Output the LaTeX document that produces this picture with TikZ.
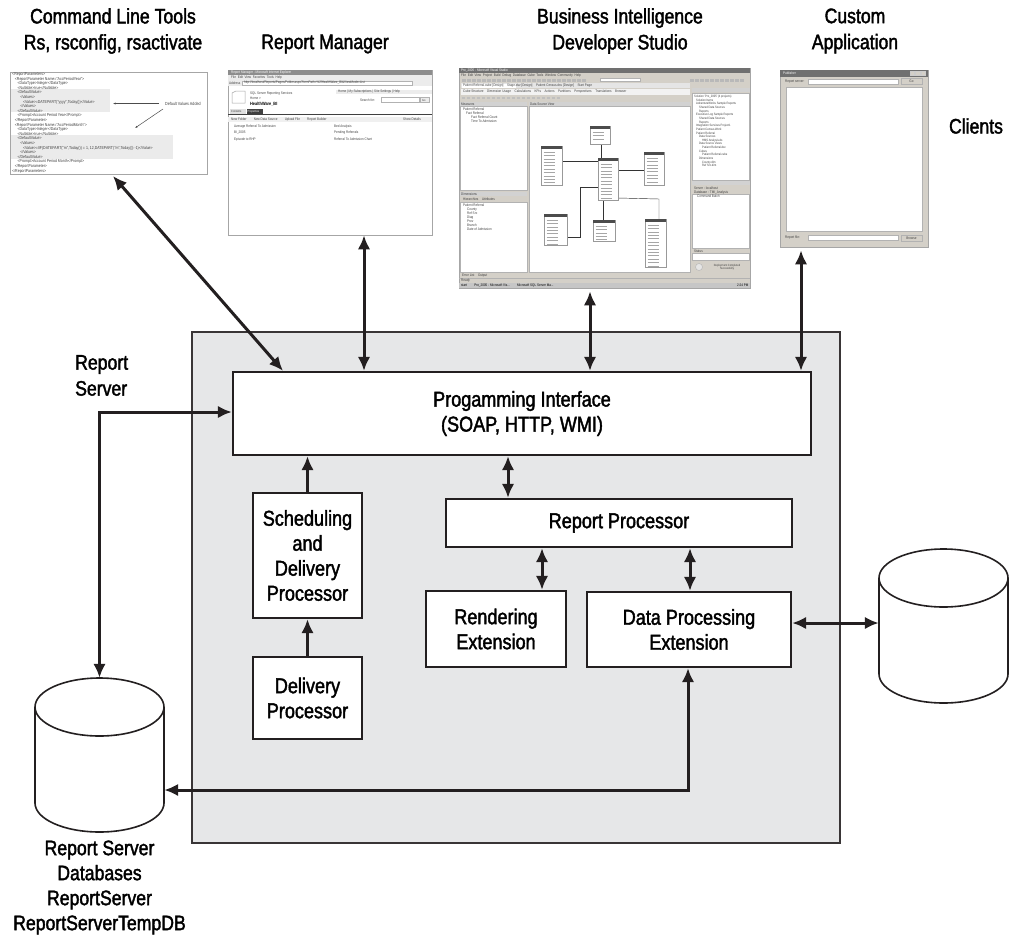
\documentclass[tikz,border=0pt]{standalone}
\usepackage{fontspec}
\setmainfont{Liberation Sans}[FakeStretch=0.84,FakeBold=1.8]
\newfontfamily\shotfam{Liberation Sans}[FakeStretch=0.84]
\usetikzlibrary{arrows.meta}
\definecolor{ink}{HTML}{231F20}
\definecolor{panel}{HTML}{E6E7E8}
\definecolor{win}{HTML}{D4D0C8}
\definecolor{wdark}{HTML}{707070}
\definecolor{codebg}{HTML}{EBEBEB}
\newcommand\boxfont{\fontsize{21.5}{25}\selectfont}
\newcommand\titfont{\fontsize{21}{26}\selectfont}
\newcommand\shotfont{\shotfam\fontsize{3.6}{4}\selectfont}
\newcommand\codefont{\shotfam\fontsize{4.2}{4.6}\selectfont}
\begin{document}
\begin{tikzpicture}[x=1pt,y=-1pt,
  box/.style={draw=ink,line width=2.3pt,fill=white,inner sep=0pt,align=center,font=\boxfont},
  lbl/.style={inner sep=0pt,align=center,font=\titfont},
  arr/.style={draw=ink,line width=3pt,{Latex[length=14pt,width=12.5pt]}-{Latex[length=14pt,width=12.5pt]}},
  sarr/.style={draw=ink,line width=3pt,-{Latex[length=14pt,width=12.5pt]}},
  shot/.style={draw=gray!70,line width=0.7pt,fill=white,inner sep=0pt},
  tt/.style={inner sep=0pt,anchor=west,font=\shotfont,text=black!75},
  thinl/.style={draw=gray!60,line width=0.4pt},
  cylline/.style={draw=ink,line width=1.6pt}]
\useasboundingbox (0,0) rectangle (1011,935);
\fill[white] (0,0) rectangle (1011,935);

% ---------- titles ----------
\node[lbl] (tcmd) at (113,31) {Command Line Tools\\Rs, rsconfig, rsactivate};
\node[lbl] (trm) at (325,44) {Report Manager};
\node[lbl] (tbids) at (620,31) {Business Intelligence\\Developer Studio};
\node[lbl] (tapp) at (855,31) {Custom\\Application};
\node[lbl] (tcl) at (976,126) {Clients};
\node[lbl,align=left,anchor=west] (trs) at (75,375.5) {Report\\Server};

% ---------- command line screenshot ----------
\node[shot,minimum width=197pt,minimum height=102pt] (cmd) at (108.5,123) {};
\fill[codebg] (11,89) rectangle (110,112);
\fill[codebg] (11,135) rectangle (173,159);
\node[inner sep=0pt,anchor=north west,align=left,font=\codefont,text=black!75] (cmdtext) at (12,72.5) {%
<ReportParameters>\\
\hspace*{2.7pt}<ReportParameter Name="AccPeriodYear">\\
\hspace*{5.4pt}<DataType>Integer</DataType>\\
\hspace*{5.4pt}<Nullable>true</Nullable>\\
\hspace*{5.4pt}<DefaultValue>\\
\hspace*{8.1pt}<Values>\\
\hspace*{10.8pt}<Value>=DATEPART("yyyy",Today())</Value>\\
\hspace*{8.1pt}</Values>\\
\hspace*{5.4pt}</DefaultValue>\\
\hspace*{5.4pt}<Prompt>Account Period Year</Prompt>\\
\hspace*{2.7pt}</ReportParameter>\\
\hspace*{2.7pt}<ReportParameter Name="AccPeriodMonth">\\
\hspace*{5.4pt}<DataType>Integer</DataType>\\
\hspace*{5.4pt}<Nullable>true</Nullable>\\
\hspace*{5.4pt}<DefaultValue>\\
\hspace*{8.1pt}<Values>\\
\hspace*{10.8pt}<Value>=IIF(DATEPART("m",Today()) = 1, 12,DATEPART("m",Today()) -1)</Value>\\
\hspace*{8.1pt}</Values>\\
\hspace*{5.4pt}</DefaultValue>\\
\hspace*{5.4pt}<Prompt>Account Period Month</Prompt>\\
\hspace*{2.7pt}</ReportParameter>\\
</ReportParameters>};
\node[tt,font=\shotfam\fontsize{4.4}{5}\selectfont] (dva) at (165,104) {Default Values Added};
\draw[black!70,line width=0.5pt,-{Latex[length=2.5pt,width=2pt]}] (dva.west) ++(-6,-0.5) -- (113,103.5);
\draw[black!70,line width=0.5pt,-{Latex[length=2.5pt,width=2pt]}] (163,109) -- (135,128);

% ---------- Report Manager screenshot ----------
\node[shot,minimum width=204pt,minimum height=165pt] (rm) at (330,152.5) {};
\fill[wdark!80] (228,70) rectangle (432,75);
\node[tt,text=white] (rmt) at (231,72.5) {Report Manager - Microsoft Internet Explorer};
\fill[gray!15] (228,75) rectangle (432,86);
\node[tt] (rmmenu) at (231,77.5) {File\ \ Edit\ \ View\ \ Favorites\ \ Tools\ \ Help};
\node[tt] (rmaddr) at (229,83) {Address};
\draw[thinl,fill=white] (242,81) rectangle (412,85);
\node[tt] (rmurl) at (244,83) {http://localhost/Reports/Pages/Folder.aspx?ItemPath=\%2fHealthWare\_BI\&ViewMode=List};
\draw[gray!70,line width=0.5pt] (232,93) -- (236,91) -- (245,91) -- (245,103) -- (232,103) -- cycle;
\node[tt] (rm1) at (250,94) {SQL Server Reporting Services};
\node[tt] (rm2) at (250,98.5) {Home >};
\node[tt,font=\shotfam\fontsize{4.6}{5}\selectfont\bfseries,text=black] (rm3) at (250,104) {HealthWare\_BI};
\fill[gray!15] (336,89.5) rectangle (432,93.5);
\node[tt] (rm4) at (338,91.5) {Home | My Subscriptions | Site Settings | Help};
\node[tt] (rm5) at (360,100) {Search for:};
\draw[thinl,fill=white] (381,97.5) rectangle (419,102.5);
\draw[thinl,fill=gray!15] (420.5,97.5) rectangle (429,102.5);
\node[tt,font=\shotfam\fontsize{3}{3}\selectfont] (rmgo) at (422,100) {Go};
\fill[gray!25] (230,109) rectangle (246,114);
\fill[black!75] (246.5,109) rectangle (263,114);
\node[tt,font=\shotfam\fontsize{3}{3}\selectfont] (rm6) at (231,111.5) {Contents};
\node[tt,font=\shotfam\fontsize{3}{3}\selectfont,text=white] (rm7) at (247.5,111.5) {Properties};
\fill[black!75] (228,114) rectangle (432,115);
\fill[gray!12] (228,116.5) rectangle (432,122);
\node[tt] (rm8) at (231,119.3) {New Folder\qquad New Data Source\qquad Upload File\qquad Report Builder};
\node[tt] (rm9) at (403,119.3) {Show Details};
\node[tt] (rm10) at (234,126.5) {Average Referral To Admission};
\node[tt] (rm11) at (334,126.5) {Bed Analysis};
\node[tt] (rm12) at (234,133) {BI\_2005};
\node[tt] (rm13) at (334,133) {Pending Referrals};
\node[tt] (rm14) at (234,139.5) {Episode to RHP};
\node[tt] (rm15) at (334,139.5) {Referral To Admission Chart};

% ---------- BIDS screenshot ----------
\node[shot,fill=win,minimum width=291pt,minimum height=220pt] (bids) at (604.5,178) {};
\fill[wdark] (459,68) rectangle (750,73);
\node[tt,text=white] (b1) at (461,70.5) {Pro\_2005 - Microsoft Visual Studio};
\node[tt] (b2) at (461,75.5) {File\ \ Edit\ \ View\ \ Project\ \ Build\ \ Debug\ \ Database\ \ Cube\ \ Tools\ \ Window\ \ Community\ \ Help};
\foreach \xx in {462,467,...,585} {\fill[gray!55] (\xx,78.5) rectangle ++(3.5,3);}
\foreach \xx in {690,695,...,740} {\fill[gray!55] (\xx,78.5) rectangle ++(3.5,3);}
\draw[thinl,fill=white] (600,78.5) rectangle (640,81.5);
\fill[gray!20] (461,83) rectangle (690,88);
\fill[white] (462,83.5) rectangle (516,88);
\node[tt] (b3) at (463,85.7) {Patient Referral.cube [Design]\quad Stage.dsv [Design]\quad Patient Census.dsv [Design]\quad Start Page};
\fill[gray!10] (461,89) rectangle (690,95);
\node[tt] (b4) at (463,92) {Cube Structure\quad Dimension Usage\quad Calculations\quad KPIs\quad Actions\quad Partitions\quad Perspectives\quad Translations\quad Browser};
\foreach \xx in {462,467,...,560} {\fill[gray!50] (\xx,96.5) rectangle ++(3,2.5);}
% left panels
\fill[gray!35] (460,102) rectangle (527,106);
\node[tt] (b5) at (461,104) {Measures};
\draw[thinl,fill=white] (460,106) rectangle (527,190);
\node[tt,align=left,anchor=north west] (b6) at (463,108) {Patient Referral\\\hspace*{3pt}Fact Referral\\\hspace*{8pt}Fact Referral Count\\\hspace*{8pt}Time To Admission};
\fill[gray!35] (460,192) rectangle (527,196);
\node[tt] (b7) at (461,194) {Dimensions};
\node[tt] (b8) at (463,199) {Hierarchies\quad Attributes};
\draw[thinl,fill=white] (460,202) rectangle (527,272);
\node[tt,align=left,anchor=north west] (b9) at (463,204) {Patient Referral\\\hspace*{4pt}County\\\hspace*{4pt}Ref Src\\\hspace*{4pt}Diag\\\hspace*{4pt}Prov\\\hspace*{4pt}Branch\\\hspace*{4pt}Date of Admission};
% data source view
\fill[gray!35] (529,102) rectangle (690,106);
\node[tt] (b10) at (530,104) {Data Source View};
\draw[thinl,fill=white] (529,106) rectangle (690,272);
\draw[black!80,line width=0.45pt] (601,144) -- (601,158);
\draw[black!80,line width=0.45pt] (562,161) -- (598,161);
\draw[black!80,line width=0.45pt] (618,170) -- (644,170);
\draw[black!80,line width=0.45pt] (598,187) -- (580,187) -- (580,237) -- (567,237);
\draw[black!80,line width=0.45pt] (603,200) -- (603,220);
\draw[black!80,line width=0.45pt] (618,198) -- (659,199) -- (659,219);
\foreach \a/\b/\c/\d/\n in {590/126/610/144/3,541/146/562/185/10,598/158/618/200/11,644/152/664/185/8,544/214/567/245/8,593/220/615/241/5,645/219/666/267/13}{
  \draw[gray!80,line width=0.5pt,fill=white] (\a,\b) rectangle (\c,\d);
  \fill[black!70] (\a,\b) rectangle (\c,{\b+2.8});
  \foreach \k in {1,...,\n}{\draw[gray!70,line width=0.45pt] ({\a+2.5},{\b+2.6+\k*3.4}) -- ++(11,0);}
}
% right panels
\fill[gray!35] (692,88) rectangle (750,92);
\draw[thinl,fill=white] (692,93) rectangle (749,180);
\node[tt,align=left,anchor=north west,font=\shotfam\fontsize{3.2}{3.65}\selectfont] (b11) at (694,95) {Solution 'Pro\_2005' (4 projects)\\\hspace*{2pt}Solution Items\\\hspace*{2pt}AdventureWorks Sample Reports\\\hspace*{5pt}Shared Data Sources\\\hspace*{5pt}Reports\\\hspace*{2pt}Executive Log Sample Reports\\\hspace*{5pt}Shared Data Sources\\\hspace*{5pt}Reports\\\hspace*{2pt}Integration Services Project1\\\hspace*{2pt}Patient Census.Work\\\hspace*{2pt}Patient Referral\\\hspace*{5pt}Data Sources\\\hspace*{8pt}HMS Analysis.ds\\\hspace*{5pt}Data Source Views\\\hspace*{8pt}Patient Referral.dsv\\\hspace*{5pt}Cubes\\\hspace*{8pt}Patient Referral.cube\\\hspace*{5pt}Dimensions\\\hspace*{8pt}County.dim\\\hspace*{8pt}Ref Src.dim};
\fill[gray!35] (692,181) rectangle (750,185);
\node[tt,align=left,anchor=north west] (b12) at (694,186.5) {Server : localhost\\Database : TMI\_Analysis};
\draw[thinl,fill=white] (692,194) rectangle (749,248);
\node[tt] (b13) at (697,196.5) {Command Batch};
\node[tt] (b14) at (694,251) {Status};
\draw[thinl,fill=white] (692,253.5) rectangle (749,260);
\draw[gray!60,fill=gray!20] (699,267) circle (3.5pt);
\node[tt,align=center,anchor=center,font=\shotfam\fontsize{3}{3.5}\selectfont] (b15) at (727,267) {Deployment Completed\\Successfully};
\node[tt] (b16) at (462,276) {Error List\quad Output};
\draw[thinl] (459,278.5) -- (750,278.5);
\node[tt] (b17) at (461,280.5) {Ready};
\fill[gray!45] (459,282.5) rectangle (750,288);
\node[tt,text=black] (b18) at (461,285.3) {start\qquad Pro\_2005 - Microsoft Vis...\qquad Microsoft SQL Server Ma...};
\node[tt,text=black] (b19) at (737,285.3) {2:24 PM};

% ---------- custom application screenshot ----------
\node[shot,fill=win,minimum width=148pt,minimum height=177pt] (app) at (854,158.5) {};
\fill[wdark] (780,70) rectangle (928,77);
\node[tt,text=white] (a1) at (783,73.5) {Publisher};
\foreach \xx in {910,915.5,921} {\draw[gray!40,fill=win] (\xx,71.5) rectangle ++(4.5,4);}
\node[tt] (a2) at (785,81.5) {Report server:};
\draw[thinl,fill=white] (808,79) rectangle (898,84);
\draw[gray!60,fill=win] (901,78.5) rectangle (922,84.5);
\node[tt,anchor=center] (a3) at (911.5,81.5) {Go};
\draw[gray!60,fill=white] (786,87) rectangle (922,231);
\node[tt] (a4) at (785,238) {Report file:};
\draw[thinl,fill=white] (808,235.5) rectangle (898,240.5);
\draw[gray!60,fill=win] (901,235) rectangle (922,241);
\node[tt,anchor=center] (a5) at (911.5,238) {Browse};

% ---------- report server ----------
\node[draw=ink!90,line width=1.6pt,fill=panel,inner sep=0pt,minimum width=648pt,minimum height=511pt] (srv) at (516,587.5) {};
\node[box,minimum width=578pt,minimum height=83pt] (prog) at (522,413.5) {Progamming Interface\\(SOAP, HTTP, WMI)};
\node[box,minimum width=109pt,minimum height=125pt] (sched) at (307.5,555.5) {Scheduling\\and\\Delivery\\Processor};
\node[box,minimum width=109pt,minimum height=82pt] (deliv) at (307.5,698) {Delivery\\Processor};
\node[box,minimum width=346pt,minimum height=48pt] (rp) at (619,523) {Report Processor};
\node[box,minimum width=140pt,minimum height=76pt] (rend) at (496,629) {Rendering\\Extension};
\node[box,minimum width=204pt,minimum height=75pt] (dpe) at (689,629.5) {Data Processing\\Extension};

% ---------- databases ----------
\node[inner sep=0pt,minimum width=129pt,minimum height=154pt] (db1) at (99.5,755) {};
\draw[cylline,fill=white] (35,707) -- (35,803) arc[start angle=180,end angle=360,x radius=64.5pt,y radius=29pt] -- (164,707) arc[start angle=0,end angle=180,x radius=64.5pt,y radius=29pt] -- cycle;
\draw[cylline] (35,707) arc[start angle=180,end angle=360,x radius=64.5pt,y radius=29pt];
\node[inner sep=0pt,minimum width=129pt,minimum height=154pt] (db2) at (943.5,626) {};
\draw[cylline,fill=white] (879,578) -- (879,674) arc[start angle=180,end angle=360,x radius=64.5pt,y radius=29pt] -- (1008,578) arc[start angle=0,end angle=180,x radius=64.5pt,y radius=29pt] -- cycle;
\draw[cylline] (879,578) arc[start angle=180,end angle=360,x radius=64.5pt,y radius=29pt];
\node[lbl,font=\fontsize{21}{25}\selectfont] (tdb) at (99.5,887.5) {Report Server\\Databases\\ReportServer\\ReportServerTempDB};

% ---------- connectors ----------
\coordinate (cmdend) at (113,176);
\coordinate (x283) at (283,0);
\coordinate (x364) at (364,0);
\coordinate (x590) at (590,0);
\coordinate (x801) at (801,0);
\coordinate (x508) at (508,0);
\coordinate (x542) at (542,0);
\coordinate (x690) at (690,0);
\coordinate (x688) at (688,0);
\coordinate (y412) at (0,412);
\coordinate (y623) at (0,623);
\coordinate (y790) at (0,790);
\draw[arr] (cmdend) -- (prog.north -| x283);
\draw[arr] (rm.south -| x364) -- (prog.north -| x364);
\draw[arr] ([yshift=-3pt]bids.south -| x590) -- (prog.north -| x590);
\draw[arr] ([yshift=-3pt]app.south -| x801) -- (prog.north -| x801);
\draw[arr] (prog.west |- y412) -| (db1.north);
\draw[sarr] (sched.north) -- (sched.north |- prog.south);
\draw[sarr] (deliv.north) -- (sched.south);
\draw[arr] (prog.south -| x508) -- (rp.north -| x508);
\draw[arr] (rp.south -| x542) -- (rend.north -| x542);
\draw[arr] (rp.south -| x690) -- (dpe.north -| x690);
\draw[arr] (dpe.east |- y623) -- (db2.west |- y623);
\draw[arr] (dpe.south -| x688) |- (db1.east |- y790);
\end{tikzpicture}
\end{document}
